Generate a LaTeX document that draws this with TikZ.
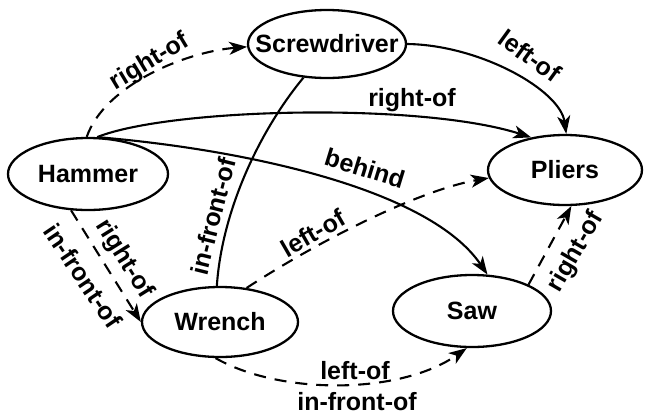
\documentclass[tikz,border=0pt]{standalone}
\usepackage{fontspec}
\setmainfont{Liberation Sans}
\usetikzlibrary{shapes.geometric,arrows.meta}
\tikzset{
  obj/.style={ellipse, draw, line width=2.3pt, inner sep=0pt, font=\fontsize{25}{30}\selectfont\bfseries},
  lbl/.style={inner sep=0pt, font=\fontsize{25}{30}\selectfont\bfseries},
  rel/.style={line width=2.1pt, -{Stealth[length=18pt,width=13pt,inset=5pt]}},
  reldash/.style={rel, dash pattern=on 12pt off 9pt},
  plain/.style={line width=2.1pt}
}
\begin{document}
\begin{tikzpicture}[x=1pt,y=-1pt]
\useasboundingbox (0,0) rectangle (645,416);
% nodes
\node[obj, minimum width=160pt, minimum height=72pt] (H) at (88,174) {\makebox[0pt]{Hammer}};
\node[obj, minimum width=158pt, minimum height=68pt] (Sc) at (327,44) {\makebox[0pt]{Screwdriver}};
\node[obj, minimum width=154pt, minimum height=70pt] (P) at (565,170) {\makebox[0pt]{Pliers}};
\node[obj, minimum width=156pt, minimum height=70pt] (W) at (220,322) {\makebox[0pt]{Wrench}};
\node[obj, minimum width=158pt, minimum height=72pt] (Sa) at (472,311) {\makebox[0pt]{Saw}};
% edges
\draw[reldash] (H.92) .. controls (105,85) and (185,52) .. (Sc.182);
\draw[rel] (H.76) .. controls (170,108) and (420,102) .. (P.136);
\draw[rel] (H.76) .. controls (250,150) and (430,190) .. (Sa.67);
\draw[rel] (Sc.east) .. controls (480,45) and (560,90) .. (P.88);
\draw[plain] (W.95) .. controls (222,210) and (260,130) .. (Sc.-125);
\draw[reldash] (W.52) .. controls (320,240) and (420,190) .. (P.186);
\draw[reldash] (H.-115) -- (W.west);
\draw[reldash] (W.-97) .. controls (280,395) and (400,395) .. (Sa.-98);
\draw[reldash] (Sa.25) -- (P.-80);
% labels
\node[lbl, rotate=31] (l1) at (150,62) {right-of};
\node[lbl] (l2) at (412,100) {right-of};
\node[lbl, rotate=-17] (l3) at (365,168) {behind};
\node[lbl, rotate=-36] (l4) at (530,56) {left-of};
\node[lbl, rotate=76] (l5) at (213,216) {in-front-of};
\node[lbl, rotate=30] (l6) at (313,233) {left-of};
\node[lbl, rotate=-58] (l7) at (124,259) {right-of};
\node[lbl, rotate=-56] (l8) at (83,276) {in-front-of};
\node[lbl] (l9) at (355,371) {left-of};
\node[lbl] (l10) at (357,402) {in-front-of};
\node[lbl, rotate=60] (l11) at (576,252) {right-of};
\end{tikzpicture}
\end{document}
